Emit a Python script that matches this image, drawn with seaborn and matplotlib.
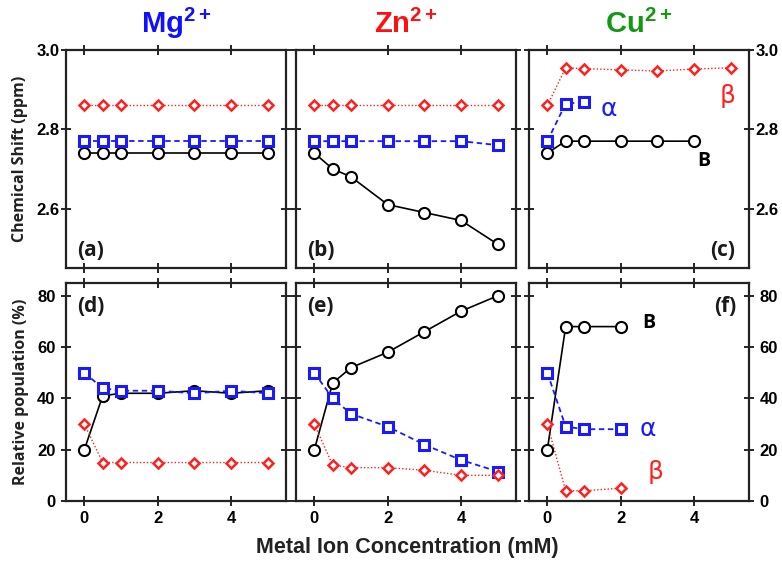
import matplotlib
matplotlib.use("Agg")
import matplotlib.pyplot as plt
from matplotlib import font_manager
import seaborn as sns
import pandas as pd

# concentrations (mM)
conc = [0, 0.5, 1, 2, 3, 4, 5]

# chemical shifts (ppm)
mg_shift_B = [2.74, 2.74, 2.74, 2.74, 2.74, 2.74, 2.74]
mg_shift_a = [2.77, 2.77, 2.77, 2.77, 2.77, 2.77, 2.77]
mg_shift_b = [2.86, 2.86, 2.86, 2.86, 2.86, 2.86, 2.86]
zn_shift_B = [2.74, 2.70, 2.68, 2.61, 2.59, 2.57, 2.51]
zn_shift_a = [2.77, 2.77, 2.77, 2.77, 2.77, 2.77, 2.76]
zn_shift_b = [2.86, 2.86, 2.86, 2.86, 2.86, 2.86, 2.86]
cu_shift_B = [2.74, 2.77, 2.77, 2.77, 2.77, 2.77, None]
cu_shift_a = [2.77, 2.865, 2.868, None, None, None, None]
cu_shift_b = [2.86, 2.955, 2.953, 2.95, 2.947, 2.952, 2.955]

# relative populations (%)
mg_pop_B = [20, 41, 42, 42, 43, 42, 43]
mg_pop_a = [50, 44, 43, 43, 42, 43, 42]
mg_pop_b = [30, 15, 15, 15, 15, 15, 15]
zn_pop_B = [20, 46, 52, 58, 66, 74, 80]
zn_pop_a = [50, 40, 34, 29, 22, 16, 11.5]
zn_pop_b = [30, 14, 13, 13, 12, 10, 10]
cu_pop_B = [20, 68, 68, 68, None, None, None]
cu_pop_a = [50, 29, 28, 28, None, None, None]
cu_pop_b = [30, 4, 4, 5, None, None, None]

metals = ["Mg$^{2+}$", "Zn$^{2+}$", "Cu$^{2+}$"]
metal_colors = ["#1010ff", "#ff1010", "#119911"]
panel_tags = ["(a)", "(b)", "(c)", "(d)", "(e)", "(f)"]

shift_data = [(mg_shift_B, mg_shift_a, mg_shift_b),
              (zn_shift_B, zn_shift_a, zn_shift_b),
              (cu_shift_B, cu_shift_a, cu_shift_b)]
pop_data = [(mg_pop_B, mg_pop_a, mg_pop_b),
            (zn_pop_B, zn_pop_a, zn_pop_b),
            (cu_pop_B, cu_pop_a, cu_pop_b)]

sns.set_theme(style="white")

# narrow bold face for numbers and headings, if installed
names = {f.name for f in font_manager.fontManager.ttflist}
narrow = "Liberation Sans Narrow" if "Liberation Sans Narrow" in names else "Liberation Sans"
plt.rcParams["font.family"] = [narrow, "DejaVu Sans"]
plt.rcParams["mathtext.fontset"] = "custom"
plt.rcParams["mathtext.rm"] = narrow + ":bold"
plt.rcParams["mathtext.bf"] = narrow + ":bold"
plt.rcParams["mathtext.it"] = narrow + ":bold"
plt.rcParams["mathtext.default"] = "bf"

styles = {
    "B": dict(color="black", marker="o", linestyle="-", linewidth=1.2,
              markersize=8, markerfacecolor="white", markeredgewidth=1.5),
    "a": dict(color="#1a1aff", marker="s", linestyle=(0, (3, 2)), linewidth=1.3,
              markersize=7.5, markerfacecolor="white", markeredgewidth=2.2),
    "b": dict(color="#ff2020", marker="D", linestyle=(0, (1, 1.5)), linewidth=1.0,
              markersize=5.5, markerfacecolor="white", markeredgewidth=1.8),
}


def draw_panel(ax, series):
    for key, vals in zip(["B", "a", "b"], series):
        df = pd.DataFrame({"x": conc, "y": vals}).dropna()
        st = styles[key]
        sns.lineplot(data=df, x="x", y="y", ax=ax, color=st["color"],
                     linestyle=st["linestyle"], linewidth=st["linewidth"],
                     zorder=2 if key == "B" else 3)
        ax.plot(df["x"], df["y"], linestyle="none", marker=st["marker"],
                markersize=st["markersize"], markerfacecolor=st["markerfacecolor"],
                markeredgecolor=st["color"], markeredgewidth=st["markeredgewidth"],
                zorder=4)


fig = plt.figure(figsize=(7.82, 5.61), dpi=100)
lefts = [66 / 782, 296 / 782, 529 / 782]
w = 220 / 782
h = 218 / 561
bottoms = [1 - 268 / 561, 1 - 501 / 561]

axes = []
for r in range(2):
    row = []
    for c in range(3):
        ax = fig.add_axes([lefts[c], bottoms[r], w, h])
        row.append(ax)
    axes.append(row)

for c in range(3):
    ax_top = axes[0][c]
    ax_bot = axes[1][c]
    draw_panel(ax_top, shift_data[c])
    draw_panel(ax_bot, pop_data[c])
    ax_top.set_ylim(2.45, 3.0)
    ax_top.set_yticks([2.6, 2.8, 3.0])
    ax_bot.set_ylim(0, 85)
    ax_bot.set_yticks([0, 20, 40, 60, 80])
    for ax in (ax_top, ax_bot):
        ax.set_xlim(-0.5, 5.5)
        ax.set_xticks([0, 2, 4])
        ax.set_xlabel("")
        ax.set_ylabel("")
        ax.tick_params(direction="inout", length=7, width=1.2, top=True, right=True,
                       left=True, bottom=True, labelsize=12, colors="black",
                       labelleft=False, labelbottom=False, pad=1)
        for sp in ax.spines.values():
            sp.set_color("#222222")
            sp.set_linewidth(1.6)
    ax_bot.tick_params(labelbottom=True, pad=4)
    ax_top.set_title(metals[c], color=metal_colors[c], fontsize=21,
                     fontweight="bold", pad=12)

for r in range(2):
    axes[r][0].tick_params(labelleft=True)
    axes[r][2].tick_params(labelright=True)
    for ax in axes[r]:
        for t in ax.xaxis.get_major_ticks() + ax.yaxis.get_major_ticks():
            t.label1.set_fontweight("bold")
            t.label2.set_fontweight("bold")

ylab_font = dict(fontsize=11.5, fontweight="bold", color="#222222",
                 family=["Open Sans", "DejaVu Sans"])
axes[0][0].set_ylabel("Chemical Shift (ppm)", labelpad=6, **ylab_font)
axes[1][0].set_ylabel("Relative population (%)", labelpad=6, **ylab_font)
fig.text(0.5 * (lefts[0] + lefts[2] + w), 1 - 548 / 561,
         "Metal Ion Concentration (mM)", ha="center", va="center",
         fontsize=15.5, fontweight="bold", color="#222222")

# panel tags
tag_pos = [(0.17, 2.495), (0.17, 2.495), (4.78, 2.495),
           (0.17, 76), (0.17, 76), (4.85, 76)]
for i, ax in enumerate([axes[0][0], axes[0][1], axes[0][2],
                        axes[1][0], axes[1][1], axes[1][2]]):
    x, y = tag_pos[i]
    ax.text(x, y, panel_tags[i], fontsize=15, fontweight="bold",
            family=["Open Sans", "DejaVu Sans"], color="#1a1a1a",
            ha="center", va="center")

# species labels in Cu panels
greek = dict(fontsize=18, ha="center", va="center", family=["DejaVu Sans"])
axes[0][2].text(4.92, 2.885, "\u03b2", color="#ff2020", **greek)
axes[0][2].text(1.69, 2.85, "\u03b1", color="#1a1aff", **greek)
axes[0][2].text(4.28, 2.72, "B", color="black", fontsize=14, fontweight="bold",
                family=["Open Sans", "DejaVu Sans"], ha="center", va="center")
axes[1][2].text(2.76, 69.5, "B", color="black", fontsize=14, fontweight="bold",
                family=["Open Sans", "DejaVu Sans"], ha="center", va="center")
axes[1][2].text(2.74, 28, "\u03b1", color="#1a1aff", **greek)
axes[1][2].text(2.94, 11.5, "\u03b2", color="#ff2020", **greek)

fig.savefig("out.png", dpi=100)
